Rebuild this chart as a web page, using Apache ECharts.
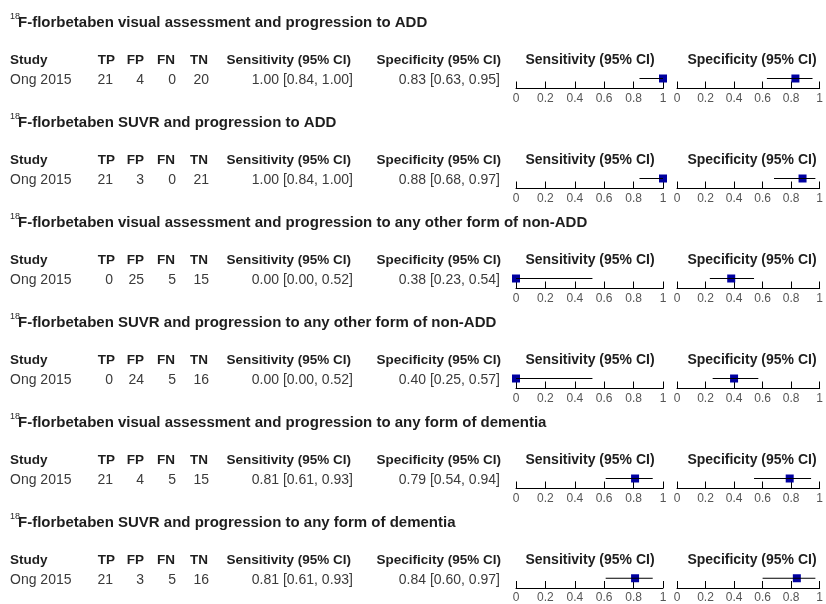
<!DOCTYPE html>
<html>
<head>
<meta charset="utf-8">
<script src="https://cdn.jsdelivr.net/npm/echarts@6/dist/echarts.min.js"></script>
<style>
  html, body { margin: 0; padding: 0; background: #ffffff; }
  #chart { width: 826px; height: 604px; }
</style>
</head>
<body>
<div id="chart"></div>
<script>
// Panel headings (each preceded by a superscript "18" isotope mass number)
const panelTitles = [
  'F-florbetaben visual assessment and progression to ADD',
  'F-florbetaben SUVR and progression to ADD',
  'F-florbetaben visual assessment and progression to any other form of non-ADD',
  'F-florbetaben SUVR and progression to any other form of non-ADD',
  'F-florbetaben visual assessment and progression to any form of dementia',
  'F-florbetaben SUVR and progression to any form of dementia'
];
const studies = ['Ong 2015', 'Ong 2015', 'Ong 2015', 'Ong 2015', 'Ong 2015', 'Ong 2015'];
const tp = [21, 21, 0, 0, 21, 21];
const fp = [4, 3, 25, 24, 4, 3];
const fn = [0, 0, 5, 5, 5, 5];
const tn = [20, 21, 15, 16, 15, 16];
const sens   = [1.00, 1.00, 0.00, 0.00, 0.81, 0.81];
const sensLo = [0.84, 0.84, 0.00, 0.00, 0.61, 0.61];
const sensHi = [1.00, 1.00, 0.52, 0.52, 0.93, 0.93];
const spec   = [0.83, 0.88, 0.38, 0.40, 0.79, 0.84];
const specLo = [0.63, 0.68, 0.23, 0.25, 0.54, 0.60];
const specHi = [0.95, 0.97, 0.54, 0.57, 0.94, 0.97];
const axisTicks = [0, 0.2, 0.4, 0.6, 0.8, 1];

const FONT = '"Liberation Sans", Arial, sans-serif';
const STEP = 100;
const chart = echarts.init(document.getElementById('chart'), null, { renderer: 'canvas' });

const grids = [], xAxes = [], yAxes = [], series = [], graphics = [];

function txt(x, y, text, opts) {
  graphics.push({
    type: 'text', x: x, y: y, silent: true,
    style: Object.assign({
      text: text, font: '14px ' + FONT, fill: '#262626',
      textAlign: 'left', textVerticalAlign: 'middle'
    }, opts || {})
  });
}
const ci = (v, lo, hi) => v.toFixed(2) + ' [' + lo.toFixed(2) + ', ' + hi.toFixed(2) + ']';
const R = (o) => Object.assign({ textAlign: 'right' }, o);

// Two forest plots per panel: sensitivity and specificity
const plots = [
  { left: 516, width: 147, v: sens, lo: sensLo, hi: sensHi, head: 'Sensitivity (95% CI)', cx: 590 },
  { left: 677, width: 148, v: spec, lo: specLo, hi: specHi, head: 'Specificity (95% CI)', cx: 752 }
];

panelTitles.forEach((title, k) => {
  const off = k * STEP;
  // heading
  txt(10, 17 + off, '18', { font: '9px ' + FONT, fill: '#1e1e1e' });
  txt(18, 23 + off, title, { font: 'bold 15px ' + FONT, fill: '#1e1e1e' });
  // column headers
  const hb = { font: 'bold 13.5px ' + FONT, fill: '#1e1e1e' };
  txt(10, 60 + off, 'Study', hb);
  txt(115, 60 + off, 'TP', R(hb));
  txt(144, 60 + off, 'FP', R(hb));
  txt(175, 60 + off, 'FN', R(hb));
  txt(208, 60 + off, 'TN', R(hb));
  txt(351, 60 + off, 'Sensitivity (95% CI)', R(hb));
  txt(501, 60 + off, 'Specificity (95% CI)', R(hb));
  // study row
  const rd = { fill: '#3a3a3a' };
  txt(10, 80 + off, studies[k], rd);
  txt(113, 80 + off, String(tp[k]), R(rd));
  txt(144, 80 + off, String(fp[k]), R(rd));
  txt(176, 80 + off, String(fn[k]), R(rd));
  txt(209, 80 + off, String(tn[k]), R(rd));
  txt(353, 80 + off, ci(sens[k], sensLo[k], sensHi[k]), R(rd));
  txt(500, 80 + off, ci(spec[k], specLo[k], specHi[k]), R(rd));

  plots.forEach((p) => {
    txt(p.cx, 60 + off, p.head, { textAlign: 'center', font: 'bold 14px ' + FONT, fill: '#1e1e1e' });
    const gi = grids.length;
    grids.push({ left: p.left, width: p.width, top: 68.5 + off, height: 20 });
    // main axis: line, upward ticks, labels
    xAxes.push({
      type: 'value', gridIndex: gi, min: 0, max: 1, interval: 0.2,
      axisLine: { show: true, onZero: false, lineStyle: { color: '#000', width: 1 } },
      axisTick: { show: true, inside: true, length: 7, lineStyle: { color: '#000', width: 1 } },
      axisLabel: {
        show: true, margin: 4, fontSize: 12, fontFamily: FONT, color: '#555',
        customValues: axisTicks,
        formatter: (v) => String(+v.toFixed(1))
      },
      splitLine: { show: false }
    });
    // companion axis: short downward tick stubs
    xAxes.push({
      type: 'value', gridIndex: gi, min: 0, max: 1, interval: 0.2,
      axisLine: { show: false },
      axisTick: { show: true, inside: false, length: 2, lineStyle: { color: '#000', width: 1 } },
      axisLabel: { show: false },
      splitLine: { show: false }
    });
    yAxes.push({ type: 'value', gridIndex: gi, min: 0, max: 1, show: false });
    const xi = xAxes.length - 2;
    const yi = yAxes.length - 1;
    series.push({
      type: 'line', xAxisIndex: xi, yAxisIndex: yi, symbol: 'none', silent: true,
      lineStyle: { color: '#000', width: 1 }, clip: false,
      data: [[p.lo[k], 0.5], [p.hi[k], 0.5]]
    });
    series.push({
      type: 'scatter', xAxisIndex: xi, yAxisIndex: yi, symbol: 'rect', symbolSize: [8, 8],
      itemStyle: { color: '#0000a0', opacity: 1 }, clip: false, silent: true,
      data: [[p.v[k], 0.5]]
    });
  });
});

chart.setOption({
  animation: false,
  backgroundColor: '#ffffff',
  grid: grids,
  xAxis: xAxes,
  yAxis: yAxes,
  series: series,
  graphic: graphics
});
</script>
</body>
</html>
